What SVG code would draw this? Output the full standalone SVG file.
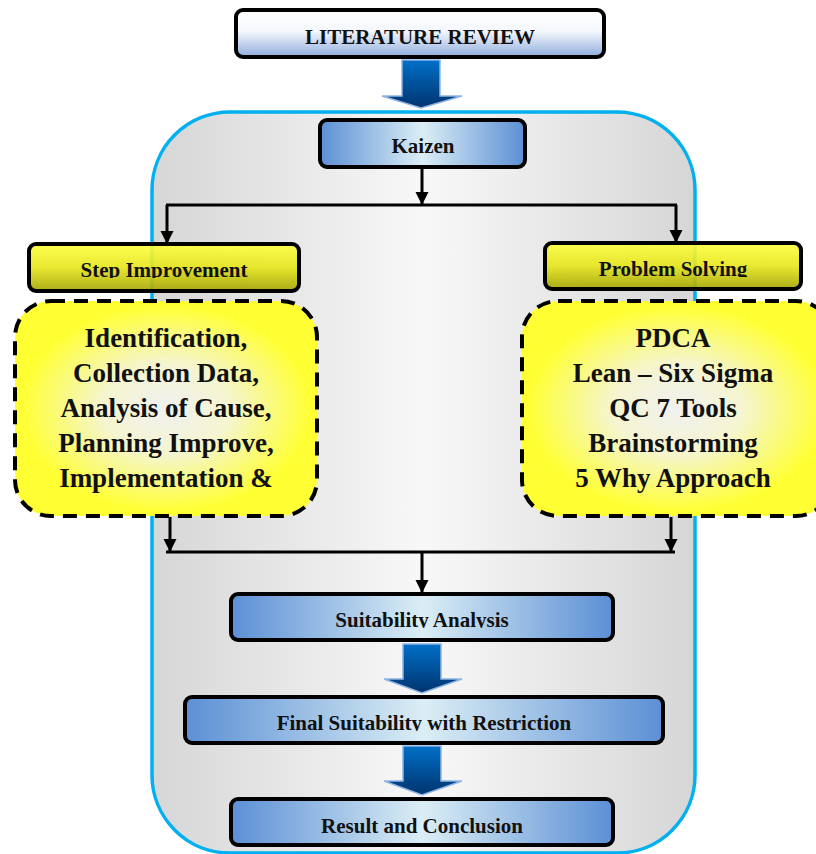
<svg xmlns="http://www.w3.org/2000/svg" width="816" height="854" viewBox="0 0 816 854">
<style>
.t{font-family:"Liberation Serif","Times New Roman",serif;font-weight:bold;fill:#111;text-anchor:middle}
.s{font-size:21px}
.b{font-size:27px}
.blue{fill:url(#gBlue);stroke:#000;stroke-width:4}
.yel{fill:url(#gYel);stroke:#000;stroke-width:4;fill-opacity:0.9}
.dash{fill:url(#gRad);stroke:#000;stroke-width:4;stroke-dasharray:14 9}
.ln{fill:none;stroke:#000;stroke-width:3}
.barr{fill:url(#gArr);stroke:#8fb4e3;stroke-width:1.5}
</style>
<defs>
<linearGradient id="gTop" x1="0" y1="0" x2="0" y2="1">
<stop offset="0" stop-color="#ffffff"/><stop offset="0.45" stop-color="#f4f7fc"/><stop offset="1" stop-color="#8fadde"/>
</linearGradient>
<linearGradient id="gBlue" x1="0" y1="0" x2="1" y2="0">
<stop offset="0" stop-color="#5b8fd5"/><stop offset="0.5" stop-color="#dbeef5"/><stop offset="1" stop-color="#5b8fd5"/>
</linearGradient>
<linearGradient id="gYel" x1="0" y1="0" x2="0" y2="1">
<stop offset="0" stop-color="#ffff40"/><stop offset="0.5" stop-color="#e6e61a"/><stop offset="1" stop-color="#a3a300"/>
</linearGradient>
<radialGradient id="gRad" cx="0.5" cy="0.5" r="0.6">
<stop offset="0" stop-color="#f0f0f0"/><stop offset="0.35" stop-color="#f5f5d0"/><stop offset="0.8" stop-color="#ffff33"/><stop offset="1" stop-color="#ffff33"/>
</radialGradient>
<linearGradient id="gCont" x1="0" y1="0" x2="1" y2="0">
<stop offset="0" stop-color="#d6d6d6"/><stop offset="0.5" stop-color="#f8f8f8"/><stop offset="1" stop-color="#d6d6d6"/>
</linearGradient>
<linearGradient id="gArr" x1="0" y1="0" x2="0" y2="1">
<stop offset="0" stop-color="#0070c8"/><stop offset="1" stop-color="#00336e"/>
</linearGradient>
<marker id="ah" viewBox="0 0 10 10" refX="10" refY="5" markerWidth="4.5" markerHeight="4.5" orient="auto" markerUnits="strokeWidth">
<path d="M0,0 L10,5 L0,10 z" fill="#000"/>
</marker>
<clipPath id="cStep"><rect x="28" y="243" width="272" height="35"/></clipPath>
<clipPath id="cProb"><rect x="544" y="242" width="258" height="35"/></clipPath>
<clipPath id="cSuit"><rect x="231" y="593" width="382" height="35"/></clipPath>
<clipPath id="cFin"><rect x="185" y="696" width="478" height="35"/></clipPath>
</defs>

<rect id="container" x="152" y="112" width="543" height="741" rx="78" ry="78" fill="url(#gCont)" stroke="#00b0f0" stroke-width="3.5"/>

<g id="literature-review">
<rect x="236" y="10" width="368" height="47" rx="7" fill="url(#gTop)" stroke="#000" stroke-width="4"/>
<text class="t s" x="420" y="44">LITERATURE REVIEW</text>
</g>

<g id="kaizen">
<rect class="blue" x="320" y="120" width="205" height="47" rx="7"/>
<text class="t s" x="423" y="153">Kaizen</text>
</g>

<g id="step-improvement">
<rect class="yel" x="29" y="244" width="270" height="47" rx="7"/>
<text class="t s" x="164" y="277" clip-path="url(#cStep)">Step Improvement</text>
</g>

<g id="problem-solving">
<rect class="yel" x="545" y="243" width="256" height="46" rx="7"/>
<text class="t s" x="673" y="276" clip-path="url(#cProb)">Problem Solving</text>
</g>

<g id="step-details">
<rect class="dash" x="15" y="301" width="302" height="215" rx="36"/>
<text class="t b" x="166" y="347">Identification,</text>
<text class="t b" x="166" y="382">Collection Data,</text>
<text class="t b" x="166" y="417">Analysis of Cause,</text>
<text class="t b" x="166" y="452">Planning Improve,</text>
<text class="t b" x="166" y="487">Implementation &amp;</text>
</g>

<g id="problem-details">
<rect class="dash" x="522" y="301" width="310" height="215" rx="36"/>
<text class="t b" x="673" y="347">PDCA</text>
<text class="t b" x="673" y="382">Lean – Six Sigma</text>
<text class="t b" x="673" y="417">QC 7 Tools</text>
<text class="t b" x="673" y="452">Brainstorming</text>
<text class="t b" x="673" y="487">5 Why Approach</text>
</g>

<g id="suitability-analysis">
<rect class="blue" x="231" y="594" width="382" height="46" rx="7"/>
<text class="t s" x="422" y="627" clip-path="url(#cSuit)">Suitability Analysis</text>
</g>

<g id="final-suitability">
<rect class="blue" x="185" y="697" width="478" height="46" rx="7"/>
<text class="t s" x="424" y="730" clip-path="url(#cFin)">Final Suitability with Restriction</text>
</g>

<g id="result-conclusion">
<rect class="blue" x="231" y="799" width="382" height="46" rx="7"/>
<text class="t s" x="422" y="833">Result and Conclusion</text>
</g>

<g id="connectors">
<path class="barr" d="M402,60 H440 V96 H462 L421,108 L382,96 H402 Z"/>
<path class="ln" d="M422,167 V205" marker-end="url(#ah)"/>
<path class="ln" d="M166,205 H677"/>
<path class="ln" d="M167,205 V244" marker-end="url(#ah)"/>
<path class="ln" d="M676,205 V243" marker-end="url(#ah)"/>
<path class="ln" d="M170,517 V552" marker-end="url(#ah)"/>
<path class="ln" d="M671,517 V552" marker-end="url(#ah)"/>
<path class="ln" d="M166,552 H675"/>
<path class="ln" d="M422,552 V593" marker-end="url(#ah)"/>
<path class="barr" d="M403,644 H441 V679 H462 L422,693 L384,679 H403 Z"/>
<path class="barr" d="M403,746 H441 V781 H462 L422,795 L384,781 H403 Z"/>
</g>
</svg>
